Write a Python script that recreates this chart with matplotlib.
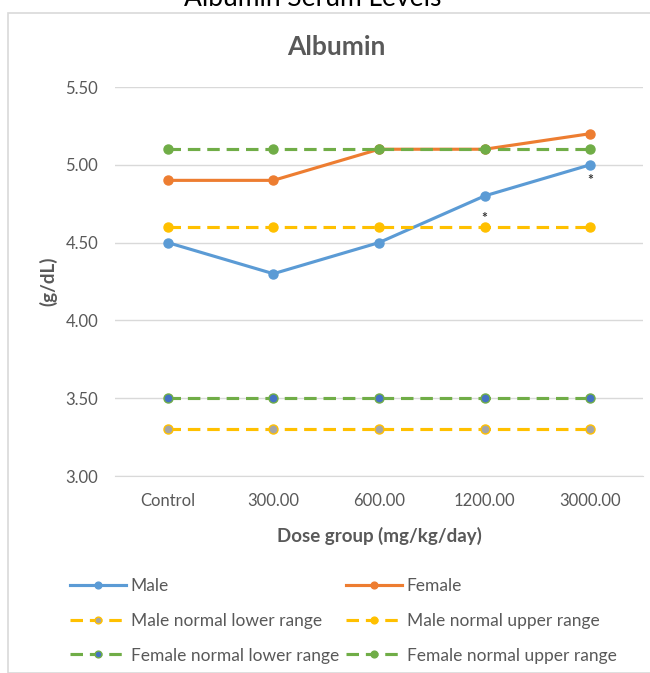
import matplotlib
matplotlib.use("Agg")
import matplotlib.pyplot as plt
from matplotlib.patches import Rectangle

plt.rcParams['font.family'] = ['Lato', 'DejaVu Sans']

# dose groups and albumin values (g/dL)
doses = ["Control", "300.00", "600.00", "1200.00", "3000.00"]
male = [4.5, 4.3, 4.5, 4.8, 5.0]
female = [4.9, 4.9, 5.1, 5.1, 5.2]
male_lower = [3.3, 3.3, 3.3, 3.3, 3.3]
male_upper = [4.6, 4.6, 4.6, 4.6, 4.6]
female_lower = [3.5, 3.5, 3.5, 3.5, 3.5]
female_upper = [5.1, 5.1, 5.1, 5.1, 5.1]
# significance marks under the male line
star_idx = [3, 4]
star_y = [4.66, 4.90]

txt = "#595959"
fig = plt.figure(figsize=(6.5, 6.73), dpi=100)
fig.patches.append(Rectangle((8 / 650, 0), 1.0, 1 - 13 / 673, transform=fig.transFigure,
                             fill=False, edgecolor="#d9d9d9", lw=1.2))
fig.text(313 / 650, 1 - 6 / 673, "Albumin Serum Levels", ha="center", va="baseline",
         fontsize=19, color="black")
fig.text(336 / 650, 1 - 47 / 673, "Albumin", ha="center", va="center",
         fontsize=19, fontweight="bold", color=txt)

ax = fig.add_axes([115 / 650, 1 - 476 / 673, 528 / 650, 389 / 673])
x = list(range(len(doses)))
lw = 2.25
ms = 6.5
dash = (4, 2.2)

series = [
    ("Male", male, "#5B9BD5", "#5B9BD5", "-"),
    ("Female", female, "#ED7D31", "#ED7D31", "-"),
    ("Male normal lower range", male_lower, "#FFC000", "#A5A5A5", "--"),
    ("Male normal upper range", male_upper, "#FFC000", "#FFC000", "--"),
    ("Female normal lower range", female_lower, "#70AD47", "#4472C4", "--"),
    ("Female normal upper range", female_upper, "#70AD47", "#70AD47", "--"),
]
handles = {}
for name, vals, col, face, ls in series:
    ln, = ax.plot(x, vals, color=col, lw=lw, ls=ls, marker="o", ms=ms,
                  markerfacecolor=face, markeredgecolor=col, markeredgewidth=1,
                  label=name)
    if ls == "--":
        ln.set_dashes(dash)
    handles[name] = ln

for i, yv in zip(star_idx, star_y):
    ax.text(x[i], yv, "*", ha="center", va="center", fontsize=10,
            fontweight="bold", color="#333333")

ax.set_xlim(-0.5, len(doses) - 0.5)
ax.set_ylim(3.0, 5.5)
ax.set_yticks([3.0, 3.5, 4.0, 4.5, 5.0, 5.5])
ax.set_yticklabels([f"{v:.2f}" for v in [3.0, 3.5, 4.0, 4.5, 5.0, 5.5]])
ax.set_xticks(x)
ax.set_xticklabels(doses)
ax.grid(axis="y", color="#d9d9d9", lw=1)
ax.set_axisbelow(True)
for s in ["top", "right", "left"]:
    ax.spines[s].set_visible(False)
ax.spines["bottom"].set_color("#d9d9d9")
ax.tick_params(length=0, colors=txt, labelsize=12)
ax.tick_params(axis="y", pad=12)
ax.tick_params(axis="x", pad=12)

ax.set_ylabel("(g/dL)", fontsize=13.5, fontweight="bold", color=txt, labelpad=6)
ax.set_xlabel("Dose group (mg/kg/day)", fontsize=13.5, fontweight="bold", color=txt,
              labelpad=13)

order = ["Male", "Male normal lower range", "Female normal lower range",
         "Female", "Male normal upper range", "Female normal upper range"]
leg = fig.legend([handles[n] for n in order], order, ncol=2, loc="upper left",
                 bbox_to_anchor=(70 / 650, 1 - 578 / 673), frameon=False,
                 borderpad=0, borderaxespad=0, markerscale=0.75,
                 fontsize=12.5, handlelength=3.2, handletextpad=0.3,
                 labelspacing=1.08, columnspacing=0.4)
for t in leg.get_texts():
    t.set_color(txt)

fig.savefig("out.png", dpi=100)
